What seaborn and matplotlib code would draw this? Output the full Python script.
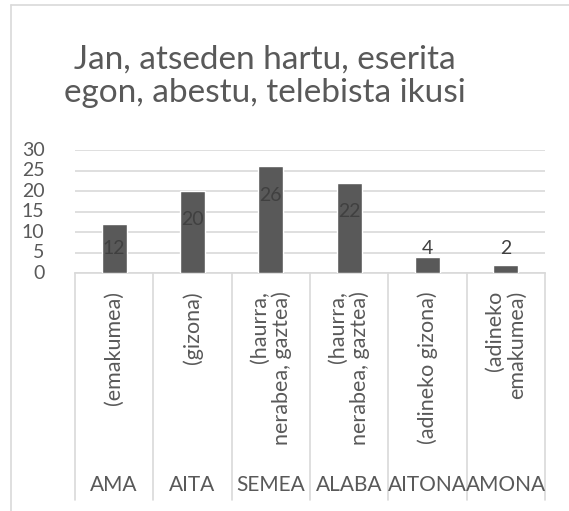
import matplotlib
matplotlib.use("Agg")
import matplotlib.pyplot as plt
import seaborn as sns
import pandas as pd

# chart data
categories = ["AMA", "AITA", "SEMEA", "ALABA", "AITONA", "AMONA"]
subcategories = ["(emakumea)", "(gizona)", "(haurra,\nnerabea, gaztea)",
                 "(haurra,\nnerabea, gaztea)", "(adineko gizona)",
                 "(adineko\nemakumea)"]
values = [12, 20, 26, 22, 4, 2]
title = "Jan, atseden hartu, eserita\negon, abestu, telebista ikusi"

sns.set_style("white")
plt.rcParams["font.family"] = ["Lato", "DejaVu Sans"]
txt = "#595959"
grid = "#d9d9d9"

W, H = 569, 511
fig = plt.figure(figsize=(W / 100, H / 100), dpi=100)

# outer chart border (only top and left visible)
fig.add_artist(plt.Line2D([11 / W, 11 / W], [0, 1 - 5 / H], color=grid, lw=1.2))
fig.add_artist(plt.Line2D([11 / W, 1], [1 - 5 / H, 1 - 5 / H], color=grid, lw=1.2))

x0, x1, ytop, ybot = 75, 545, 150, 273
ax = fig.add_axes([x0 / W, 1 - ybot / H, (x1 - x0) / W, (ybot - ytop) / H])

df = pd.DataFrame({"cat": categories, "val": values})
sns.barplot(data=df, x="cat", y="val", color="#595959", width=0.32,
            saturation=1, ax=ax, zorder=3)

ax.set_xlim(-0.5, len(categories) - 0.5)
ax.set_ylim(0, 30)
ax.set_yticks(range(0, 31, 5))
ax.yaxis.grid(True, color=grid, lw=1.2, zorder=0)
ax.set_axisbelow(True)
for s in ["top", "right", "left"]:
    ax.spines[s].set_visible(False)
ax.spines["bottom"].set_color(grid)
ax.spines["bottom"].set_linewidth(1.2)
ax.tick_params(axis="y", length=0, labelsize=14, labelcolor=txt, pad=22)
ax.set_xticks([])
ax.set_xlabel("")
ax.set_ylabel("")
for lab in ax.get_yticklabels():
    lab.set_verticalalignment("center")

# data labels
for i, v in enumerate(values):
    ax.text(i, max(v - 7, 6), str(v), ha="center", va="center",
            fontsize=14, color="#404040", zorder=4)

# two-level category axis
h_ax = ybot - ytop
sep_end = -(500 - ybot) / h_ax
for k in range(len(categories) + 1):
    ax.plot([k - 0.5, k - 0.5], [0, sep_end], color=grid, lw=1.2,
            transform=ax.get_xaxis_transform(), clip_on=False)
for i, (c, s) in enumerate(zip(categories, subcategories)):
    ax.text(i, -(291 - ybot) / h_ax, s, rotation=90, ha="center", va="top",
            multialignment="right", fontsize=15.5, color=txt,
            linespacing=1.12, transform=ax.get_xaxis_transform())
    ax.text(i, -(485 - ybot) / h_ax, c, ha="center", va="center",
            fontsize=15, color=txt, transform=ax.get_xaxis_transform())

fig.text(265 / W, 1 - 76 / H, title, ha="center", va="center",
         fontsize=24, color=txt, linespacing=1.15)

fig.savefig("out.png", dpi=100)
